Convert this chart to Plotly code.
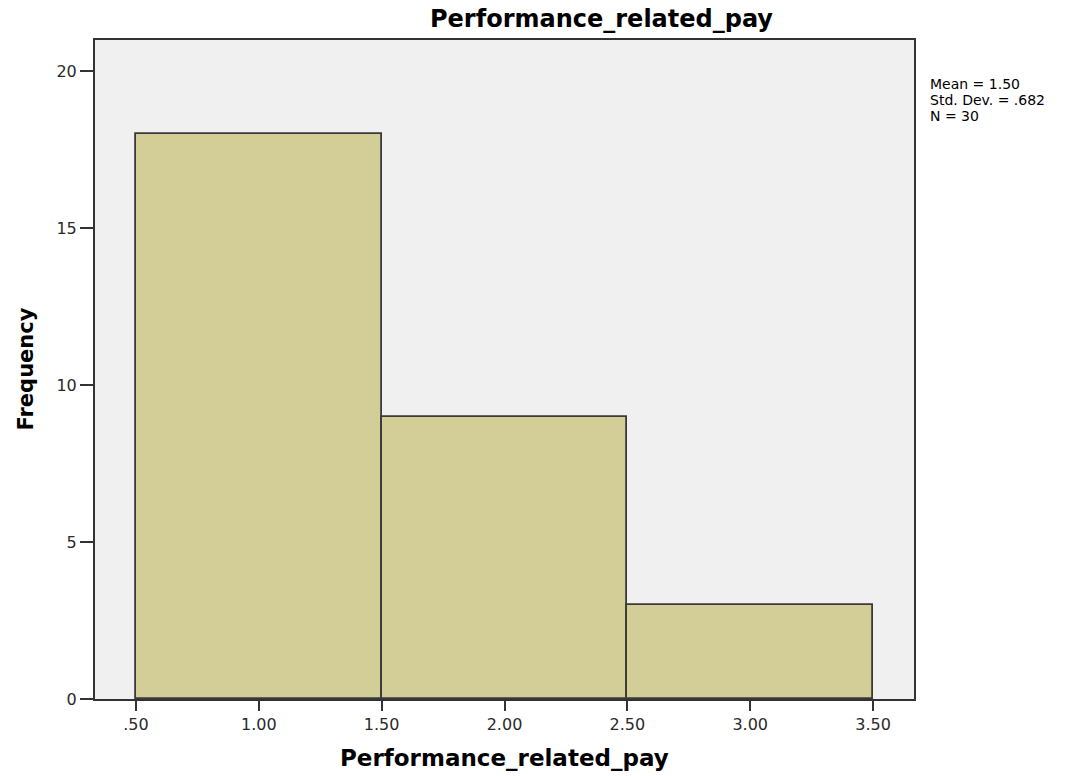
import plotly.graph_objects as go

bin_centers = [1.0, 2.0, 3.0]
frequencies = [18, 9, 3]
x_tickvals = [0.5, 1.0, 1.5, 2.0, 2.5, 3.0, 3.5]
x_ticktext = [".50", "1.00", "1.50", "2.00", "2.50", "3.00", "3.50"]
y_tickvals = [0, 5, 10, 15, 20]
stats_lines = ["Mean = 1.50", "Std. Dev. = .682", "N = 30"]

FONT = "DejaVu Sans, Liberation Sans, Arial, sans-serif"

fig = go.Figure()
fig.add_trace(go.Bar(
    x=bin_centers, y=frequencies, width=1.0,
    marker=dict(color="#D3CE97", line=dict(color="#3a3a3a", width=1.8)),
    showlegend=False, hoverinfo="x+y",
))

W, H = 1084, 776
L, R, T, B = 95, 170, 40, 77
fig.update_layout(
    width=W, height=H,
    margin=dict(l=L, r=R, t=T, b=B),
    paper_bgcolor="white", plot_bgcolor="#F0F0F0",
    font=dict(family=FONT, color="#2a2a2a", size=15),
    bargap=0,
)
fig.update_xaxes(
    range=[1/3, 3 + 2/3], tickvals=x_tickvals, ticktext=x_ticktext,
    ticks="outside", ticklen=10, tickwidth=2, tickcolor="#333333",
    showgrid=False, zeroline=False, showline=True, linecolor="#333333", linewidth=2, mirror=True,
    tickfont=dict(size=16, color="#2a2a2a", family=FONT),
)
fig.update_yaxes(
    range=[0, 21], tickvals=y_tickvals,
    ticks="outside", ticklen=13, tickwidth=2, tickcolor="#333333",
    showgrid=False, zeroline=False, showline=True, linecolor="#333333", linewidth=2, mirror=True,
    tickfont=dict(size=16, color="#2a2a2a", family=FONT),
)

plot_w = W - L - R

fig.add_annotation(text="<b>Performance_related_pay</b>", xref="paper", yref="paper",
                   x=(601 - L) / plot_w, y=1, yshift=21, showarrow=False,
                   xanchor="center", yanchor="middle",
                   font=dict(size=24, color="#000000", family=FONT))
fig.add_annotation(text="<b>Performance_related_pay</b>", xref="paper", yref="paper",
                   x=0.5, y=0, yshift=-59, showarrow=False,
                   xanchor="center", yanchor="middle",
                   font=dict(size=23, color="#000000", family=FONT))
fig.add_annotation(text="<b>Frequency</b>", xref="paper", yref="paper",
                   x=0, xshift=-70, y=0.5, showarrow=False, textangle=-90,
                   xanchor="center", yanchor="middle",
                   font=dict(size=21, color="#000000", family=FONT))
for i, line in enumerate(stats_lines):
    fig.add_annotation(text=line, xref="paper", yref="paper",
                       x=1, xshift=14, y=1, yshift=-(44 + 16 * i), showarrow=False, align="left",
                       xanchor="left", yanchor="middle",
                       font=dict(size=14, color="#000000", family=FONT))

fig.write_html("out.html", config={"displayModeBar": False},
               post_script="document.body.style.margin='0px';document.body.style.overflow='hidden';")
